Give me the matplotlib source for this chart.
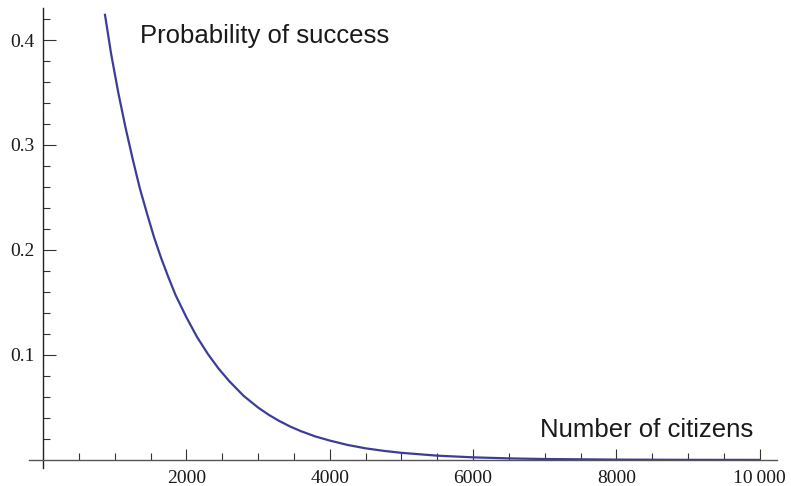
import matplotlib
matplotlib.use("Agg")
import matplotlib.pyplot as plt
from matplotlib.ticker import FixedLocator

# values
citizens = [865, 950, 1050, 1150, 1250, 1350, 1450, 1550, 1650, 1750, 1850,
            2000, 2150, 2300, 2450, 2600, 2800, 3000, 3150, 3300, 3450, 3600,
            3800, 4000, 4250, 4500, 4750, 5000, 5500, 6000, 6500, 7000, 8000,
            9000, 10000]
prob = [0.424, 0.387, 0.350, 0.317, 0.287, 0.259, 0.235, 0.212, 0.192, 0.174,
        0.157, 0.136, 0.117, 0.101, 0.087, 0.075, 0.061, 0.050, 0.0430,
        0.0370, 0.0318, 0.0274, 0.0224, 0.0185, 0.0143, 0.0111, 0.0087,
        0.0068, 0.0041, 0.0025, 0.0015, 0.0009, 0.00034, 0.00012, 0.00005]

x_major = [2000, 4000, 6000, 8000, 10000]
x_labels = ["2000", "4000", "6000", "8000", "10\u2009000"]
x_minor = [500, 1000, 1500, 2500, 3000, 3500, 4500, 5000, 5500,
           6500, 7000, 7500, 8500, 9000, 9500]
y_major = [0.1, 0.2, 0.3, 0.4]
y_labels = ["0.1", "0.2", "0.3", "0.4"]
y_minor = [0.02, 0.04, 0.06, 0.08, 0.12, 0.14, 0.16, 0.18, 0.22, 0.24,
           0.26, 0.28, 0.32, 0.34, 0.36, 0.38, 0.42]

fig = plt.figure(figsize=(7.91, 4.86), dpi=100)
ax = fig.add_axes([0, 0, 1, 1])

ax.plot(citizens, prob, color="#3d3d99", lw=1.6, solid_joinstyle="round")

ax.set_xlim(-600, 10437)
ax.set_ylim(-0.0248, 0.4381)

for s in ("top", "right"):
    ax.spines[s].set_visible(False)
ax.spines["bottom"].set_position(("data", 0))
ax.spines["left"].set_position(("data", 0))
ax.spines["bottom"].set_bounds(-195, 10241)
ax.spines["left"].set_bounds(-0.0076, 0.4305)
ax.spines["bottom"].set_color("#555555")
ax.spines["left"].set_color("#222222")
ax.spines["bottom"].set_linewidth(1.0)
ax.spines["left"].set_linewidth(1.0)

ax.xaxis.set_major_locator(FixedLocator(x_major))
ax.xaxis.set_minor_locator(FixedLocator(x_minor))
ax.yaxis.set_major_locator(FixedLocator(y_major))
ax.yaxis.set_minor_locator(FixedLocator(y_minor))
ax.set_xticklabels(x_labels)
ax.set_yticklabels(y_labels)

ax.tick_params(axis="x", which="major", direction="in", length=8, width=0.8,
               color="#333333", pad=7)
ax.tick_params(axis="x", which="minor", direction="in", length=5, width=0.8,
               color="#333333")
ax.tick_params(axis="y", which="major", direction="in", length=9, width=0.8,
               color="#333333", pad=6)
ax.tick_params(axis="y", which="minor", direction="in", length=5, width=0.8,
               color="#333333")

for lab in ax.get_xticklabels() + ax.get_yticklabels():
    lab.set_fontfamily("Liberation Serif")
    lab.set_fontsize(14)
    lab.set_color("#1a1a1a")

ax.text(1353, 0.397, "Probability of success", fontsize=18.5,
        family="Liberation Sans", color="#1a1a1a", va="baseline")
ax.text(6930, 0.0222, "Number of citizens", fontsize=18.5,
        family="Liberation Sans", color="#1a1a1a", va="baseline")

fig.savefig("out.png", dpi=100)
